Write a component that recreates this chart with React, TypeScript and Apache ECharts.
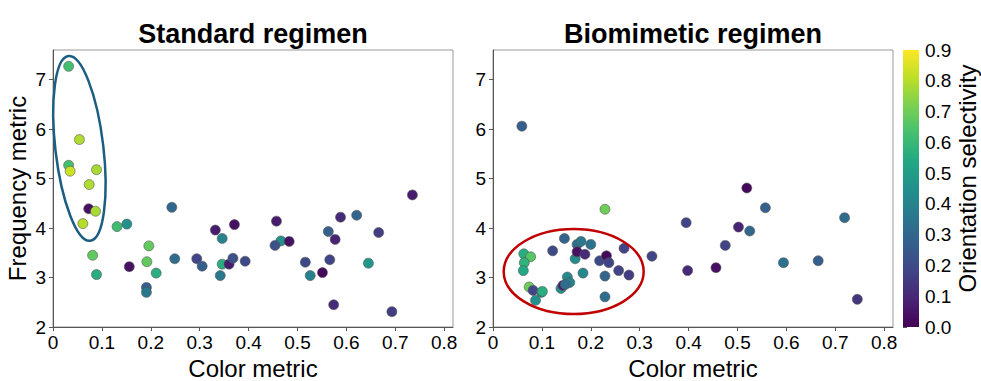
import React, { useEffect, useRef } from "react";
import * as echarts from "echarts";

// ---- Data: Standard regimen ----
const standardColor = [0.032, 0.054, 0.032, 0.035, 0.089, 0.074, 0.073, 0.087, 0.061, 0.131, 0.151, 0.081, 0.089, 0.156, 0.196, 0.192, 0.211, 0.191, 0.191, 0.243, 0.249, 0.294, 0.305, 0.332, 0.346, 0.371, 0.346, 0.36, 0.342, 0.368, 0.393, 0.457, 0.466, 0.483, 0.454, 0.516, 0.526, 0.551, 0.563, 0.577, 0.566, 0.574, 0.588, 0.621, 0.645, 0.666, 0.693, 0.735];
const standardFreq = [7.27, 5.79, 5.27, 5.15, 5.18, 4.88, 4.39, 4.34, 4.09, 4.03, 4.08, 3.45, 3.06, 3.22, 3.64, 3.32, 3.09, 2.8, 2.7, 4.42, 3.38, 3.38, 3.23, 3.96, 3.79, 4.07, 3.27, 3.27, 3.04, 3.39, 3.33, 4.14, 3.74, 3.73, 3.65, 3.31, 3.04, 3.1, 3.93, 3.77, 3.36, 2.45, 4.22, 4.26, 3.29, 3.91, 2.31, 4.67];
const standardOS = [0.63, 0.79, 0.63, 0.83, 0.78, 0.79, 0.04, 0.78, 0.8, 0.62, 0.45, 0.68, 0.56, 0.04, 0.68, 0.68, 0.56, 0.27, 0.36, 0.3, 0.32, 0.18, 0.27, 0.07, 0.4, 0.04, 0.56, 0.07, 0.36, 0.22, 0.2, 0.07, 0.45, 0.04, 0.22, 0.2, 0.4, 0.02, 0.27, 0.09, 0.18, 0.11, 0.11, 0.29, 0.47, 0.16, 0.16, 0.07];

// ---- Data: Biomimetic regimen ----
const biomimeticColor = [0.059, 0.229, 0.063, 0.077, 0.064, 0.062, 0.074, 0.082, 0.099, 0.101, 0.087, 0.122, 0.146, 0.139, 0.143, 0.152, 0.157, 0.148, 0.168, 0.172, 0.18, 0.172, 0.188, 0.184, 0.2, 0.218, 0.232, 0.237, 0.229, 0.229, 0.257, 0.268, 0.278, 0.325, 0.395, 0.398, 0.456, 0.475, 0.502, 0.519, 0.525, 0.557, 0.594, 0.665, 0.719, 0.745];
const biomimeticFreq = [6.06, 4.38, 3.48, 3.42, 3.3, 3.14, 2.81, 2.74, 2.7, 2.72, 2.54, 3.54, 3.79, 2.78, 2.84, 3.01, 2.9, 2.86, 3.38, 3.67, 3.73, 3.52, 3.47, 3.09, 3.67, 3.34, 3.44, 3.3, 3.03, 2.61, 3.14, 3.59, 3.05, 3.43, 4.11, 3.14, 3.2, 3.65, 4.02, 4.81, 3.94, 4.41, 3.3, 3.34, 4.21, 2.56];
const biomimeticOS = [0.27, 0.7, 0.56, 0.66, 0.58, 0.54, 0.7, 0.18, 0.4, 0.56, 0.45, 0.2, 0.29, 0.45, 0.07, 0.43, 0.4, 0.32, 0.43, 0.32, 0.36, 0.04, 0.11, 0.42, 0.34, 0.2, 0.02, 0.18, 0.29, 0.32, 0.18, 0.18, 0.16, 0.18, 0.18, 0.11, 0.04, 0.18, 0.09, 0.02, 0.3, 0.27, 0.34, 0.27, 0.32, 0.14];

// ---- Axes / ticks ----
const titles = ["Standard regimen", "Biomimetic regimen"];
const xAxisName = "Color metric";
const yAxisName = "Frequency metric";
const colorbarName = "Orientation selectivity";
const xRange = [0, 0.818];
const yRange = [2, 7.6];
const osRange = [0, 0.9];

// ---- Annotations (data-space centres) ----
const leftEllipseCenter = [0.054, 5.61];
const rightEllipseCenter = [0.165, 3.12];

const viridis = [
  "#440154", "#482475", "#414487", "#355f8d", "#2a788e", "#21918c",
  "#22a884", "#44bf70", "#7ad151", "#bddf26", "#fde725",
];

const FONT = "Liberation Sans, Arial, sans-serif";

export default function App() {
  const ref = useRef<HTMLDivElement>(null);

  useEffect(() => {
    if (!ref.current) return;
    const chart = echarts.init(ref.current, null, { renderer: "svg" });

    const grids = [
      { left: 53, top: 50, width: 400, height: 277 },
      { left: 493, top: 50, width: 400, height: 277 },
      { left: 903, top: 50, width: 16, height: 277 },
    ];

    const tickLabel = { color: "#000", fontSize: 19, fontFamily: FONT };
    const mkX = (gi: number) => ({
      type: "value",
      gridIndex: gi,
      min: xRange[0],
      max: xRange[1],
      interval: 0.1,
      name: xAxisName,
      nameLocation: "middle",
      nameGap: 25,
      nameTextStyle: { color: "#000", fontSize: 24, fontFamily: FONT },
      axisLine: { show: true, onZero: false, lineStyle: { color: "#555", width: 1 } },
      axisTick: { show: true, length: 4, lineStyle: { color: "#555" } },
      axisLabel: {
        ...tickLabel,
        margin: 6,
        showMaxLabel: false,
        formatter: (v: number) => (v === 0 ? "0" : v.toFixed(1)),
      },
      splitLine: { show: false },
    });
    const mkY = (gi: number, named: boolean) => ({
      type: "value",
      gridIndex: gi,
      min: yRange[0],
      max: yRange[1],
      interval: 1,
      name: named ? yAxisName : "",
      nameLocation: "middle",
      nameGap: 24,
      nameTextStyle: { color: "#000", fontSize: 24, fontFamily: FONT },
      axisLine: { show: true, onZero: false, lineStyle: { color: "#555", width: 1 } },
      axisTick: { show: true, length: 4, lineStyle: { color: "#555" } },
      axisLabel: {
        ...tickLabel,
        margin: 7,
        showMaxLabel: false,
        formatter: (v: number) => String(Math.round(v)),
      },
      splitLine: { show: false },
    });

    const mkData = (xs: number[], ys: number[], cs: number[]) =>
      xs.map((x, i) => [x, ys[i], cs[i]]);

    const scatterStyle = {
      borderColor: "#555",
      borderWidth: 0.6,
      opacity: 1,
    };

    chart.setOption({
      animation: false,
      backgroundColor: "#fff",
      title: [
        {
          text: titles[0],
          left: 253,
          top: 20,
          padding: 0,
          textAlign: "center",
          textStyle: { fontSize: 27, fontWeight: "bold", color: "#000", fontFamily: FONT },
        },
        {
          text: titles[1],
          left: 693,
          top: 20,
          padding: 0,
          textAlign: "center",
          textStyle: { fontSize: 27, fontWeight: "bold", color: "#000", fontFamily: FONT },
        },
      ],
      grid: grids.map((g, i) => ({
        ...g,
        show: i < 2,
        borderColor: "#999",
        borderWidth: 1,
        containLabel: false,
        outerBoundsMode: "none",
      })),
      xAxis: [
        mkX(0),
        mkX(1),
        { type: "value", gridIndex: 2, min: 0, max: 1, show: false },
      ],
      yAxis: [
        mkY(0, true),
        mkY(1, false),
        {
          type: "value",
          gridIndex: 2,
          position: "right",
          min: osRange[0],
          max: osRange[1],
          interval: 0.1,
          name: colorbarName,
          nameLocation: "middle",
          nameRotate: 90,
          nameGap: 35,
          nameTextStyle: {
            color: "#000",
            fontSize: 24,
            fontFamily: FONT,
            padding: [0, 0, 0, 20],
          },
          axisLine: { show: false },
          axisTick: { show: true, length: 4, lineStyle: { color: "#555" } },
          axisLabel: {
            ...tickLabel,
            margin: 6,
            formatter: (v: number) => v.toFixed(1),
          },
          splitLine: { show: false },
        },
      ],
      visualMap: {
        type: "continuous",
        show: false,
        min: osRange[0],
        max: osRange[1],
        dimension: 2,
        seriesIndex: [0, 1],
        inRange: { color: viridis },
      },
      series: [
        {
          type: "scatter",
          xAxisIndex: 0,
          yAxisIndex: 0,
          symbolSize: 10,
          itemStyle: scatterStyle,
          data: mkData(standardColor, standardFreq, standardOS),
        },
        {
          type: "scatter",
          xAxisIndex: 1,
          yAxisIndex: 1,
          symbolSize: 10,
          itemStyle: scatterStyle,
          data: mkData(biomimeticColor, biomimeticFreq, biomimeticOS),
        },
      ],
    });

    const pL = chart.convertToPixel({ xAxisIndex: 0, yAxisIndex: 0 }, leftEllipseCenter) as number[];
    const pR = chart.convertToPixel({ xAxisIndex: 1, yAxisIndex: 1 }, rightEllipseCenter) as number[];
    const cb = grids[2];

    chart.setOption({
      graphic: [
        {
          type: "rect",
          z: 10,
          shape: { x: cb.left, y: cb.top, width: cb.width, height: cb.height },
          style: {
            fill: new echarts.graphic.LinearGradient(
              0, 1, 0, 0,
              viridis.map((c, i) => ({ offset: i / (viridis.length - 1), color: c }))
            ),
            stroke: null,
          },
          silent: true,
        },
        {
          type: "ellipse",
          z: 20,
          x: pL[0],
          y: pL[1],
          rotation: 0.117,
          shape: { cx: 0, cy: 0, rx: 24, ry: 93 },
          style: { fill: "none", stroke: "#1b5e82", lineWidth: 2.5 },
          silent: true,
        },
        {
          type: "ellipse",
          z: 20,
          x: pR[0],
          y: pR[1],
          shape: { cx: 0, cy: 0, rx: 70, ry: 42.5 },
          style: { fill: "none", stroke: "#c00000", lineWidth: 2.5 },
          silent: true,
        },
      ],
    });

    return () => chart.dispose();
  }, []);

  return (
    <div
      ref={ref}
      style={{ position: "fixed", left: 0, top: 0, width: 981, height: 381, background: "#fff" }}
    />
  );
}
